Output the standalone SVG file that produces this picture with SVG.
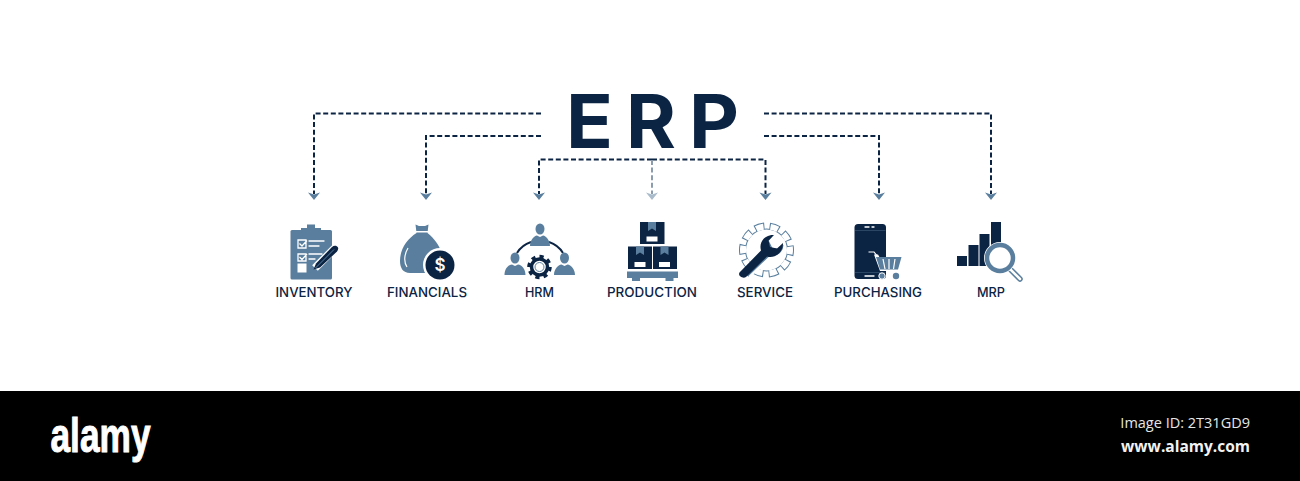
<svg xmlns="http://www.w3.org/2000/svg" width="1300" height="481" viewBox="0 0 1300 481">
<style>
.d{fill:#0c2444}.b{fill:#5a7f9e}.w{fill:#fff}
.lbl{font-family:"Inter","Liberation Sans",sans-serif;font-size:13.5px;font-weight:500;fill:#0c2444;text-anchor:middle}
.t{font-family:"Inter","Liberation Sans",sans-serif;font-size:74px;font-weight:700;fill:#0c2444}
.c{fill:none;stroke:#0c2444;stroke-width:2;stroke-dasharray:5 2.600}
.ls{fill:none;stroke:#fff;stroke-width:1.300;stroke-linecap:round}
.lk{fill:none;stroke:#fff;stroke-width:1.300}
</style>
<defs>
<marker id="arr" markerUnits="userSpaceOnUse" markerWidth="13" markerHeight="9" refX="6.500" refY="2" orient="0" overflow="visible"><path d="M0.500 0.500L6.500 2.500L12.500 0.500L6.500 8Z" fill="#5a7f9e"/></marker>
<marker id="arrL" markerUnits="userSpaceOnUse" markerWidth="13" markerHeight="9" refX="6.500" refY="2" orient="0" overflow="visible"><path d="M0.500 0.500L6.500 2.500L12.500 0.500L6.500 8Z" fill="#aabccb"/></marker>
</defs>
<rect width="1300" height="481" fill="#fff"/>
<g id="connectors">
<path class="c" d="M541 113.500H314V194" marker-end="url(#arr)"/>
<path class="c" d="M541 136H426V194" marker-end="url(#arr)"/>
<path class="c" d="M652 159.500H539V194" marker-end="url(#arr)"/>
<path class="c" d="M652 159.500H765.500V194" marker-end="url(#arr)"/>
<path d="M652 160V194" fill="none" stroke="#8a9cad" stroke-width="2" stroke-dasharray="5 2.600" marker-end="url(#arrL)"/>
<path class="c" d="M764 113.500H991V194" marker-end="url(#arr)"/>
<path class="c" d="M764 136H879V194" marker-end="url(#arr)"/>
</g>
<g id="title">
<text class="t" x="566" y="148" textLength="47" lengthAdjust="spacingAndGlyphs">E</text>
<text class="t" x="626" y="148" textLength="50" lengthAdjust="spacingAndGlyphs">R</text>
<text class="t" x="689" y="148" textLength="50" lengthAdjust="spacingAndGlyphs">P</text>
</g>
<g id="inventory">
<rect class="b" x="290.500" y="230" width="41.500" height="49.500" rx="1.500"/>
<path class="b" d="M301 232V228H307V224.500H315V228H321V232Z"/>
<path class="lk" d="M298 240H306V248H298ZM298 254H306V261H298ZM299.500 243.500L302 246L307 240.500M299.500 257L302 259.500L307 254"/>
<path class="ls" d="M309 241H324M309 246H319M309 254H322M309 259H315"/>
<rect class="w" x="297.500" y="263.500" width="9" height="9"/>
<path d="M315 268L335 248" stroke="#fff" stroke-width="8" fill="none"/>
<path class="d" d="M313.500 269.500L316 263.500L332 247C334 245 337 245.500 338 247.500C338.500 249 338 250 337 251.500L320 267.500Z"/>
<path d="M315.500 268L334 249.500" stroke="#5a7f9e" stroke-width="1" fill="none"/>
<text class="lbl" x="314" y="297" textLength="77" lengthAdjust="spacingAndGlyphs">INVENTORY</text>
</g>
<g id="financials">
<path class="b" d="M415.500 224.500L419 226H425L428.500 224.500L427.500 233C434 238 440 246 441 252L432 272L426 273H410C403 273 400 268 400 261C400 249 407 239 416.500 233Z"/>
<path d="M407 267C403 261 405 253 408 248" fill="none" stroke="#fff" stroke-width="1.200"/>
<rect class="w" x="416" y="231" width="12" height="1.500"/>
<circle class="w" cx="440" cy="265" r="17"/>
<circle class="d" cx="440" cy="265" r="14.500"/>
<text x="440" y="271" text-anchor="middle" style="font-family:'Inter','Liberation Sans',sans-serif;font-size:17px;font-weight:600;fill:#fff">$</text>
<text class="lbl" x="427" y="297" textLength="80" lengthAdjust="spacingAndGlyphs">FINANCIALS</text>
</g>
<g id="hrm">
<path d="M517 253C520 248 525 244 531 242M549 242C555 244 560 248 563 253" fill="none" stroke="#0c2444" stroke-width="2"/>
<ellipse class="b" cx="540" cy="229" rx="4.500" ry="5.500"/>
<path class="b" d="M530 246C530 240 534 236 537 235.500L540 237L543 235.500C546 236 550 240 550 246Z"/>
<ellipse class="b" cx="515" cy="258" rx="4.500" ry="5.500"/>
<path class="b" d="M504.500 275C504.500 269 508 265 512 264.500L515 266L518 264.500C522 265 525.500 269 525.500 275Z"/>
<ellipse class="b" cx="564.500" cy="258" rx="4.500" ry="5.500"/>
<path class="b" d="M554 275C554 269 558 265 561.500 264.500L564.500 266L567.500 264.500C571 265 575 269 575 275Z"/>
<circle cx="539.500" cy="267" r="8" fill="#fff" stroke="#0c2444" stroke-width="3.500"/>
<circle cx="539.500" cy="267" r="10.500" fill="none" stroke="#0c2444" stroke-width="3.500" pathLength="80" stroke-dasharray="5 5"/>
<circle cx="539.500" cy="267" r="4.500" fill="none" stroke="#5a7f9e" stroke-width="1"/>
<text class="lbl" x="539.500" y="297" textLength="29" lengthAdjust="spacingAndGlyphs">HRM</text>
</g>
<g id="production">
<rect class="d" x="640" y="222" width="24.500" height="22"/>
<rect class="d" x="628" y="246.500" width="24" height="22.500"/>
<rect class="d" x="653" y="246.500" width="24" height="22.500"/>
<path class="b" d="M648 222H656V231L652 228.500L648 231ZM636 246.500H644V255L640 252.500L636 255ZM660.500 246.500H668.500V255L664.500 252.500L660.500 255Z"/>
<rect class="w" x="646.500" y="236.500" width="11" height="5"/>
<rect class="w" x="634.500" y="262" width="11" height="5"/>
<rect class="w" x="659" y="262" width="11" height="5"/>
<rect class="b" x="627" y="271.500" width="51" height="6.500"/>
<rect class="b" x="632" y="278" width="8" height="3"/>
<rect class="b" x="665.500" y="278" width="8" height="3"/>
<text class="lbl" x="652" y="297" textLength="90" lengthAdjust="spacingAndGlyphs">PRODUCTION</text>
</g>
<g id="service">
<circle cx="766.500" cy="250" r="24" fill="none" stroke="#5a7f9e" stroke-width="7" pathLength="100" stroke-dasharray="6.500 3.500" stroke-dashoffset="0.650" transform="rotate(-8 766.500 250)"/>
<circle cx="766.500" cy="250" r="21.500" fill="#5a7f9e"/>
<circle cx="766.500" cy="250" r="23.500" fill="none" stroke="#fff" stroke-width="6" pathLength="100" stroke-dasharray="5.200 4.800" transform="rotate(-8 766.500 250)"/>
<circle cx="766.500" cy="250" r="20.500" class="w"/>
<path d="M743 273L764 250C761 243 766 235 775 235L770 241L773 247L780 248L784 242C786 250 780 258 771 256L749 277" fill="#5a7f9e" stroke="#fff" stroke-width="2"/>
<path class="d" d="M739.500 272.500L761 250.500C758.500 242 765 234.500 774 235L768.500 240.500L770 247L777 248.500L783 243C783.500 252 775 259 767 256.500L746 277C743 279 737.500 276 739.500 272.500Z"/>
<text class="lbl" x="765" y="297" textLength="56" lengthAdjust="spacingAndGlyphs">SERVICE</text>
</g>
<g id="purchasing">
<rect class="d" x="854.500" y="224" width="31.500" height="55" rx="3.500"/>
<path d="M855 230.500H885.500M855 272.500H885.500" stroke="#3a5673" stroke-width="0.700"/>
<path class="ls" d="M865 227H869M872 227H874M865 276H874"/>
<path d="M874 254.500H878L880 258H903L899 271H880Z" fill="#fff"/>
<path class="b" d="M876 257H901.500L898 269.500H880Z"/>
<path d="M868.500 252H874L878 257" fill="none" stroke="#fff" stroke-width="1.200"/>
<path d="M883 259L885 269M889 259V269M895 259L893.500 269" stroke="#fff" stroke-width="1.200"/>
<circle class="b" cx="882" cy="276" r="3.200" stroke="#fff" stroke-width="1"/>
<circle class="b" cx="896" cy="276" r="3.200"/>
<text class="lbl" x="878" y="297" textLength="88" lengthAdjust="spacingAndGlyphs">PURCHASING</text>
</g>
<g id="mrp">
<rect class="d" x="957" y="256" width="10" height="10"/>
<rect class="d" x="968.500" y="245" width="10" height="21"/>
<rect class="d" x="979.500" y="234" width="10" height="32"/>
<rect class="d" x="991" y="222" width="10" height="26"/>
<path d="M1009 268L1020 279" stroke="#5a7f9e" stroke-width="5.500" stroke-linecap="round"/>
<path d="M1009 268L1020 279" stroke="#fff" stroke-width="2.500" stroke-linecap="round"/>
<circle cx="1000" cy="258" r="14" fill="#fff" stroke="#fff" stroke-width="4"/>
<circle cx="1000" cy="258" r="13" fill="#fff" stroke="#5a7f9e" stroke-width="4.500"/>
<text class="lbl" x="991" y="297" textLength="28" lengthAdjust="spacingAndGlyphs">MRP</text>
</g>
<g id="footer">
<rect x="0" y="391" width="1300" height="90" fill="#000"/>
<text x="50.500" y="452" textLength="100" lengthAdjust="spacingAndGlyphs" style="font-family:'Liberation Sans',sans-serif;font-size:48px;font-weight:700;fill:#fff;stroke:#fff;stroke-width:1">alamy</text>
<text x="1250" y="428" text-anchor="end" style="font-family:'Open Sans','Noto Sans',sans-serif;font-size:14.500px;fill:#e6e6e6">Image ID: 2T31GD9</text>
<text x="1250" y="452" text-anchor="end" style="font-family:'Open Sans','Noto Sans',sans-serif;font-size:15.500px;font-weight:700;fill:#f2f2f2">www.alamy.com</text>
</g>
</svg>
